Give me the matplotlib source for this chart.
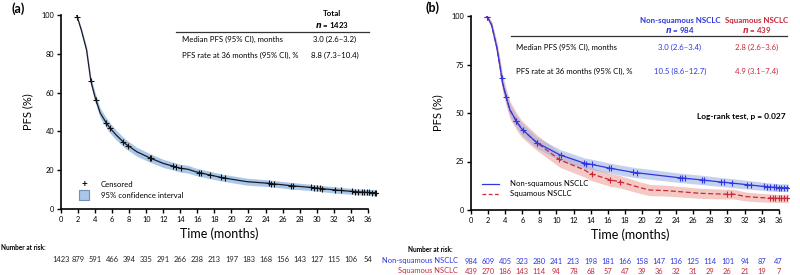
import numpy as np
import matplotlib
matplotlib.use("Agg")
import matplotlib.pyplot as plt
from matplotlib.patches import Rectangle
from matplotlib.lines import Line2D

plt.rcParams['font.family'] = ['Lato', 'DejaVu Sans']

# ---------------- data ----------------
# Panel (a): total population
a_t = [1.84, 2.4, 3.0, 3.5, 4.0, 4.6, 5.3, 5.7, 6.5, 7.5, 8.9, 10.4, 12.0, 13.4, 14.0, 14.9,
       15.8, 17.5, 19.0, 21.8, 24.5, 27.0, 29.6, 30.6, 32.7, 34.7, 35.8, 37.0]
a_s = [100, 92, 82, 66, 57.6, 49.5, 44.5, 42, 38, 33.8, 29.5, 26.4, 23.5, 21.8, 21.0, 20.5,
       19.2, 17.5, 16.1, 14.1, 13.2, 12.0, 11.0, 10.5, 9.6, 8.9, 8.6, 8.4]
a_hw = [0.3, 1.2, 1.8, 2.3, 2.5, 2.6, 2.6, 2.6, 2.5, 2.4, 2.3, 2.2, 2.1, 2.0, 2.0, 2.0,
        1.9, 1.9, 1.8, 1.8, 1.7, 1.7, 1.6, 1.6, 1.6, 1.5, 1.5, 1.5]
a_cens = [1.9, 3.5, 4.1, 5.3, 5.8, 7.3, 7.9, 10.4, 10.6, 13.2, 13.5, 14.1, 16.2, 16.4, 17.5,
          18.8, 19.3, 24.4, 24.7, 25.0, 27.0, 27.2, 29.3, 29.7, 30.1, 30.4, 30.6, 32.2, 32.8,
          34.2, 34.5, 34.9, 35.3, 35.6, 35.9, 36.2, 36.5, 36.8, 37.0]
a_risk = [1423, 879, 591, 466, 394, 335, 291, 266, 238, 213, 197, 183, 168, 156, 143, 127, 115, 106, 54]

# Panel (b): histology
b_t_early = [1.84, 2.4, 3.0, 3.4, 3.66, 4.1, 4.56, 5.35, 5.9, 6.7, 7.7]
b_s_early = [100, 95.5, 84.2, 73.9, 66.1, 58.4, 51.5, 45.5, 42, 38.7, 34.7]

ns_t = b_t_early + [10.4, 13.3, 13.9, 16.3, 19.0, 21.7, 24.4, 27.0, 29.5, 30.7, 32.6, 34.6, 36.1, 37.1]
ns_s = b_s_early + [28.4, 24.1, 23.7, 21.5, 19.4, 18.0, 16.6, 15.5, 14.3, 13.8, 12.9, 12.0, 11.5, 11.5]
ns_hw = [0.3, 1.5, 2.2, 2.7, 2.9, 3.0, 3.1, 3.1, 3.1, 3.0, 2.9,
         2.8, 2.7, 2.7, 2.6, 2.6, 2.5, 2.4, 2.4, 2.3, 2.3, 2.2, 2.1, 2.0, 2.0]
ns_cens = [1.9, 3.6, 4.1, 5.3, 6.1, 7.7, 10.5, 13.2, 13.5, 14.1, 16.1, 16.4, 19.0, 19.4, 24.4,
           24.7, 25.0, 27.0, 27.2, 29.3, 29.6, 30.5, 32.3, 32.8, 34.3, 34.6, 35.0, 35.4, 35.7,
           36.0, 36.3, 36.6, 37.0]

sq_t = b_t_early + [10.4, 13.3, 13.9, 15.1, 16.3, 17.4, 19.8, 20.9, 22.9, 24.4, 26.8, 29.5, 30.7,
                    32.2, 33.8, 35.7, 37.1]
sq_s = b_s_early + [25.8, 20.6, 18.9, 17.2, 15.5, 14.6, 11.5, 10.3, 9.97, 9.45, 8.6, 8.2, 8.2,
                    6.9, 6.4, 6.0, 6.0]
sq_hw = [0.5, 2.0, 3.2, 4.0, 4.3, 4.5, 4.5, 4.4, 4.3, 4.2, 4.0,
         3.8, 3.6, 3.5, 3.4, 3.3, 3.2, 3.0, 2.9, 2.8, 2.7, 2.6, 2.5, 2.5, 2.3, 2.2, 2.1, 2.1]
sq_cens = [1.9, 5.3, 7.7, 10.3, 14.1, 16.3, 17.4, 30.0, 30.4, 35.0, 35.3, 35.6, 36.0, 36.3, 36.6, 37.0]

ns_risk = [984, 609, 405, 323, 280, 241, 213, 198, 181, 166, 158, 147, 136, 125, 114, 101, 94, 87, 47]
sq_risk = [439, 270, 186, 143, 114, 94, 78, 68, 57, 47, 39, 36, 32, 31, 29, 26, 21, 19, 7]

risk_times = list(range(0, 37, 2))

BLUE = '#3036e0'
RED = '#c8283a'

W, H = 800, 275
fig = plt.figure(figsize=(W / 100, H / 100), dpi=100)

TXT = 5.6     # table / legend text size
HDR = 5.7     # bold header size
RISK = 5.4    # number at risk size


def fx(x):
    return x / W


def fy(y):
    return 1 - y / H


def ftext(x, y, s, **kw):
    fig.text(fx(x), fy(y), s, **kw)


def setup_axis(ax, yticks):
    ax.set_xlim(0, 37.2)
    ax.set_ylim(0, 100)
    for sp in ['top', 'right']:
        ax.spines[sp].set_visible(False)
    ax.spines['bottom'].set_bounds(0, 36)
    ax.spines['left'].set_bounds(0, 100)
    ax.spines['left'].set_linewidth(1.2)
    ax.spines['bottom'].set_linewidth(1.2)
    ax.set_xticks(risk_times)
    ax.set_yticks(yticks)
    ax.tick_params(direction='out', length=3, width=1, labelsize=5.3, pad=2)
    ax.set_xlabel('Time (months)', fontsize=9, labelpad=3)
    ax.set_ylabel('PFS (%)', fontsize=8, labelpad=6)
    ax.patch.set_alpha(0)


# ---------------- panel (a) ----------------
axa = fig.add_axes([fx(61), fy(209), fx(378) - fx(61), fy(15) - fy(209)])
setup_axis(axa, [0, 20, 40, 60, 80, 100])
at = np.array(a_t); asv = np.array(a_s); ahw = np.array(a_hw)
axa.fill_between(at, asv - ahw, asv + ahw, color='#a9c8e8', lw=0)
axa.plot(at, asv, color='#1a1a2a', lw=0.9)
axa.plot(a_cens, np.interp(a_cens, at, asv), ls='none', marker='+', ms=4.5, mew=0.8, color='#111111')

ftext(12, 9, '(a)', fontsize=9, fontweight='bold', va='center')
ftext(332, 14, 'Total', fontsize=HDR, fontweight='bold', ha='center', va='center')
ftext(332, 24.5, r'$\mathbfit{n}$' + ' = 1423', fontsize=HDR, fontweight='bold', ha='center', va='center')
fig.add_artist(Line2D([fx(176), fx(369)], [fy(31.5), fy(31.5)], color='#333333', lw=0.9))
ftext(182, 39.5, 'Median PFS (95% CI), months', fontsize=TXT, va='center')
ftext(335, 39.5, '3.0 (2.6\u20133.2)', fontsize=TXT, ha='center', va='center')
ftext(182, 55, 'PFS rate at 36 months (95% CI), %', fontsize=TXT, va='center')
ftext(335, 55, '8.8 (7.3\u201310.4)', fontsize=TXT, ha='center', va='center')

# legend (a)
ftext(84, 184, '+', fontsize=7, ha='center', va='center', fontweight='bold')
ftext(101, 184.5, 'Censored', fontsize=TXT, va='center')
fig.add_artist(Rectangle((fx(78.5), fy(199.5)), fx(10), fy(189.5) - fy(199.5),
                         facecolor='#a9c8e8', edgecolor='#6f8fb5', lw=0.8))
ftext(101, 195, '95% confidence interval', fontsize=TXT, va='center')

# number at risk (a)
ftext(1, 247.5, 'Number at risk:', fontsize=4.7, fontweight='bold', va='center')
for t, n in zip(risk_times, a_risk):
    xp = axa.transData.transform((t, 0))[0]
    fig.text(xp / W, fy(259.5), str(n), fontsize=RISK, ha='center', va='center', color='#222222')

# ---------------- panel (b) ----------------
axb = fig.add_axes([fx(471), fy(210), fx(789) - fx(471), fy(16) - fy(210)])
setup_axis(axb, [0, 25, 50, 75, 100])
nt = np.array(ns_t); nsv = np.array(ns_s); nhw = np.array(ns_hw)
st = np.array(sq_t); ssv = np.array(sq_s); shw = np.array(sq_hw)
axb.fill_between(st, ssv - shw, ssv + shw, color='#eda49c', alpha=0.6, lw=0)
axb.fill_between(nt, nsv - nhw, nsv + nhw, color='#9fb3e6', alpha=0.6, lw=0)
axb.plot(st, ssv, color=RED, lw=0.9, ls=(0, (4, 2)))
axb.plot(nt, nsv, color=BLUE, lw=0.9)
axb.plot(sq_cens, np.interp(sq_cens, st, ssv), ls='none', marker='+', ms=4.5, mew=0.8, color=RED)
axb.plot(ns_cens, np.interp(ns_cens, nt, nsv), ls='none', marker='+', ms=4.5, mew=0.8, color=BLUE)

ftext(425, 8, '(b)', fontsize=9, fontweight='bold', va='center')
ftext(680, 20.5, 'Non-squamous NSCLC', fontsize=HDR, fontweight='bold', color=BLUE, ha='center', va='center')
ftext(680, 30, r'$\mathbfit{n}$' + ' = 984', fontsize=HDR, fontweight='bold', color=BLUE, ha='center', va='center')
ftext(757, 20.5, 'Squamous NSCLC', fontsize=HDR, fontweight='bold', color=RED, ha='center', va='center')
ftext(757, 30, r'$\mathbfit{n}$' + ' = 439', fontsize=HDR, fontweight='bold', color=RED, ha='center', va='center')
fig.add_artist(Line2D([fx(511), fx(787)], [fy(35.5), fy(35.5)], color='#333333', lw=0.9))
ftext(516, 47, 'Median PFS (95% CI), months', fontsize=TXT, va='center')
ftext(680, 47, '3.0 (2.6\u20133.4)', fontsize=TXT, ha='center', va='center', color=BLUE)
ftext(757, 47, '2.8 (2.6\u20133.6)', fontsize=TXT, ha='center', va='center', color=RED)
ftext(516, 71.5, 'PFS rate at 36 months (95% CI), %', fontsize=TXT, va='center')
ftext(680, 71.5, '10.5 (8.6\u201312.7)', fontsize=TXT, ha='center', va='center', color=BLUE)
ftext(757, 71.5, '4.9 (3.1\u20137.4)', fontsize=TXT, ha='center', va='center', color=RED)
ftext(786, 116.5, 'Log-rank test, p = 0.027', fontsize=6.0, fontweight='bold', ha='right', va='center')

# legend (b)
fig.add_artist(Line2D([fx(482), fx(499)], [fy(183.5), fy(183.5)], color=BLUE, lw=0.9))
ftext(510, 183.5, 'Non-squamous NSCLC', fontsize=TXT, va='center')
fig.add_artist(Line2D([fx(482), fx(499)], [fy(193.5), fy(193.5)], color=RED, lw=0.9, ls=(0, (3, 2))))
ftext(510, 193.5, 'Squamous NSCLC', fontsize=TXT, va='center')

# number at risk (b)
ftext(408, 250, 'Number at risk:', fontsize=4.7, fontweight='bold', va='center')
ftext(458, 261, 'Non-squamous NSCLC', fontsize=RISK, color=BLUE, ha='right', va='center')
ftext(458, 271, 'Squamous NSCLC', fontsize=RISK, color=RED, ha='right', va='center')
for t, n1, n2 in zip(risk_times, ns_risk, sq_risk):
    xp = axb.transData.transform((t, 0))[0]
    fig.text(xp / W, fy(261), str(n1), fontsize=RISK, ha='center', va='center', color=BLUE)
    fig.text(xp / W, fy(271), str(n2), fontsize=RISK, ha='center', va='center', color=RED)

fig.savefig('out.png', dpi=100)
